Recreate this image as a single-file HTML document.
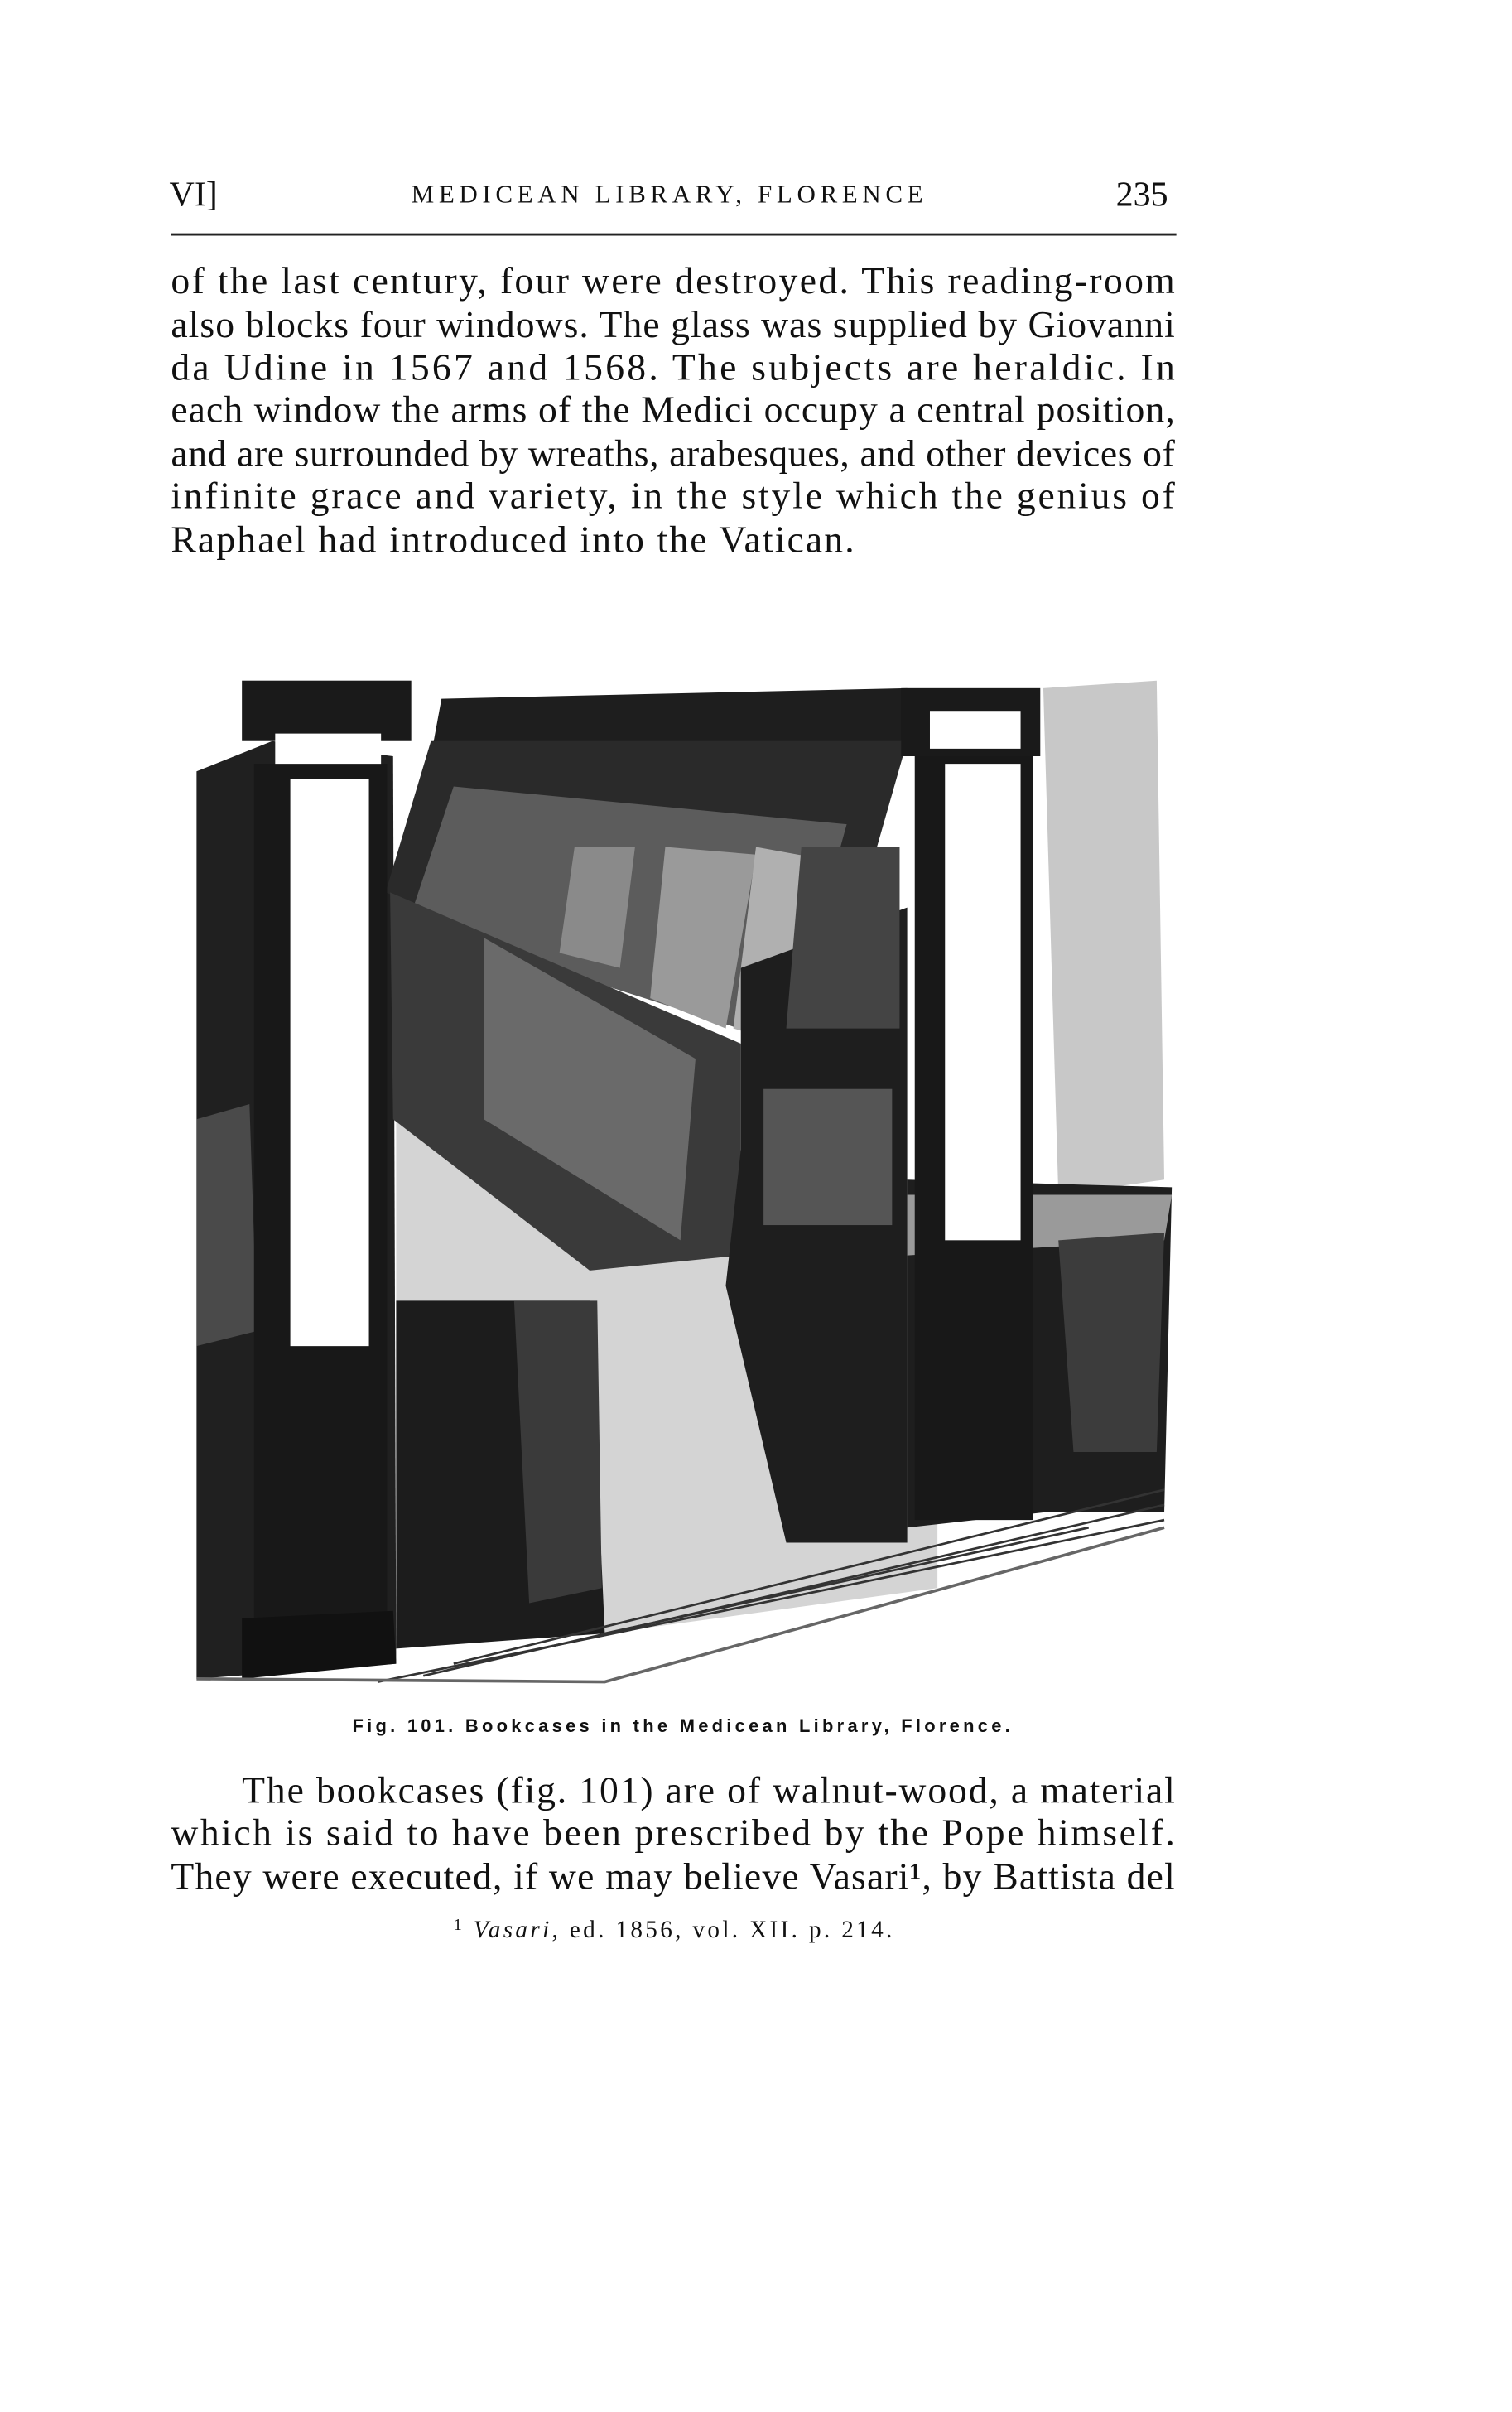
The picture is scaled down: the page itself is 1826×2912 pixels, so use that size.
<!DOCTYPE html>
<html><head><meta charset="utf-8"><style>
html,body{margin:0;padding:0;background:#fff;}
svg{display:block}
text{font-family:"Liberation Serif",serif;fill:#111}
</style></head><body>
<svg width="1826" height="2912" viewBox="0 0 1000 1594.74" xmlns="http://www.w3.org/2000/svg">
<rect width="1000" height="1594.74" fill="#fff"/>
<text x="112" y="136" font-size="23">VI]</text>
<text x="272" y="134" font-size="17" letter-spacing="1.6" textLength="340">MEDICEAN LIBRARY, FLORENCE</text>
<text x="738" y="136" font-size="23">235</text>
<line x1="113" y1="155" x2="778" y2="155" stroke="#222" stroke-width="1.6"/>
<g font-size="25">
<text x="113" y="194" textLength="664" lengthAdjust="spacing">of the last century, four were destroyed.  This reading-room</text>
<text x="113" y="223" textLength="664" lengthAdjust="spacing">also blocks four windows.  The glass was supplied by Giovanni</text>
<text x="113" y="251" textLength="664" lengthAdjust="spacing">da Udine in 1567 and 1568.  The subjects are heraldic.  In</text>
<text x="113" y="279" textLength="664" lengthAdjust="spacing">each window the arms of the Medici occupy a central position,</text>
<text x="113" y="308" textLength="664" lengthAdjust="spacing">and are surrounded by wreaths, arabesques, and other devices of</text>
<text x="113" y="336" textLength="664" lengthAdjust="spacing">infinite grace and variety, in the style which the genius of</text>
<text x="113" y="365" textLength="452" lengthAdjust="spacing">Raphael had introduced into the Vatican.</text>
</g>
<g>
<path d="M690 455 L765 450 L770 780 L700 790 Z" fill="#c8c8c8"/>
<path d="M130 510 L180 490 L260 500 L262 1100 L130 1110 Z" fill="#202020"/>
<path d="M130 740 L165 730 L170 880 L130 890 Z" fill="#4a4a4a"/>
<path d="M262 740 L480 760 L620 830 L620 1050 L400 1080 L262 860 Z" fill="#d4d4d4"/>
<path d="M262 860 L390 860 L400 1080 L262 1090 Z" fill="#1c1c1c"/>
<path d="M340 860 L395 860 L398 1050 L350 1060 Z" fill="#3a3a3a"/>
<path d="M292 462 L600 455 L600 500 L285 500 Z" fill="#1e1e1e"/>
<path d="M285 490 L600 490 L540 700 L255 590 Z" fill="#2a2a2a"/>
<path d="M300 520 L560 545 L520 690 L270 610 Z" fill="#5c5c5c"/>
<path d="M380 560 L420 560 L410 640 L370 630 Z" fill="#8a8a8a"/>
<path d="M440 560 L500 565 L480 680 L430 660 Z" fill="#9a9a9a"/>
<path d="M500 560 L555 570 L520 690 L485 680 Z" fill="#b0b0b0"/>
<path d="M258 590 L490 690 L490 830 L390 840 L260 740 Z" fill="#3a3a3a"/>
<path d="M320 620 L460 700 L450 820 L320 740 Z" fill="#6a6a6a"/>
<path d="M490 640 L600 600 L600 1020 L520 1020 L480 850 L490 760 Z" fill="#1e1e1e"/>
<rect x="505" y="720" width="85" height="90" fill="#555"/>
<path d="M530 560 L595 560 L595 680 L520 680 Z" fill="#444"/>
<path d="M600 780 L775 785 L770 1000 L690 1000 L600 1010 Z" fill="#1e1e1e"/>
<path d="M600 790 L775 790 L770 820 L600 830 Z" fill="#9a9a9a"/>
<path d="M700 820 L770 815 L765 960 L710 960 Z" fill="#3c3c3c"/>
<rect x="596" y="455" width="92" height="45" fill="#1a1a1a"/>
<rect x="615" y="470" width="60" height="25" fill="#fff"/>
<rect x="605" y="500" width="78" height="505" fill="#181818"/>
<rect x="625" y="505" width="50" height="315" fill="#fff"/>
<rect x="160" y="450" width="112" height="40" fill="#1a1a1a"/>
<rect x="182" y="485" width="70" height="25" fill="#fff"/>
<rect x="168" y="505" width="88" height="595" fill="#181818"/>
<rect x="192" y="515" width="52" height="375" fill="#fff"/>
<g stroke="#333" stroke-width="1.5">
<line x1="300" y1="1100" x2="770" y2="985"/>
<line x1="280" y1="1108" x2="770" y2="995"/>
<line x1="250" y1="1112" x2="770" y2="1005"/>
<line x1="400" y1="1080" x2="720" y2="1010"/>
</g>
<path d="M160 1070 L260 1065 L262 1100 L160 1110 Z" fill="#111"/>
<path d="M130 1110 L400 1112 L770 1010" fill="none" stroke="#666" stroke-width="2"/>
</g>
<text x="233" y="1145" font-size="12" font-weight="bold" textLength="435" style="font-family:'Liberation Sans',sans-serif">Fig. 101.  Bookcases in the Medicean Library, Florence.</text>
<g font-size="25">
<text x="160" y="1192" textLength="617" lengthAdjust="spacing">The bookcases (fig. 101) are of walnut-wood, a material</text>
<text x="113" y="1220" textLength="664" lengthAdjust="spacing">which is said to have been prescribed by the Pope himself.</text>
<text x="113" y="1249" textLength="664" lengthAdjust="spacing">They were executed, if we may believe Vasari¹, by Battista del</text>
</g>
<text x="300" y="1281" font-size="16" textLength="290" lengthAdjust="spacing"><tspan font-size="11" dy="-5">1</tspan><tspan dy="5">  </tspan><tspan font-style="italic">Vasari</tspan>, ed. 1856, vol. XII. p. 214.</text>
</svg>
</body></html>
